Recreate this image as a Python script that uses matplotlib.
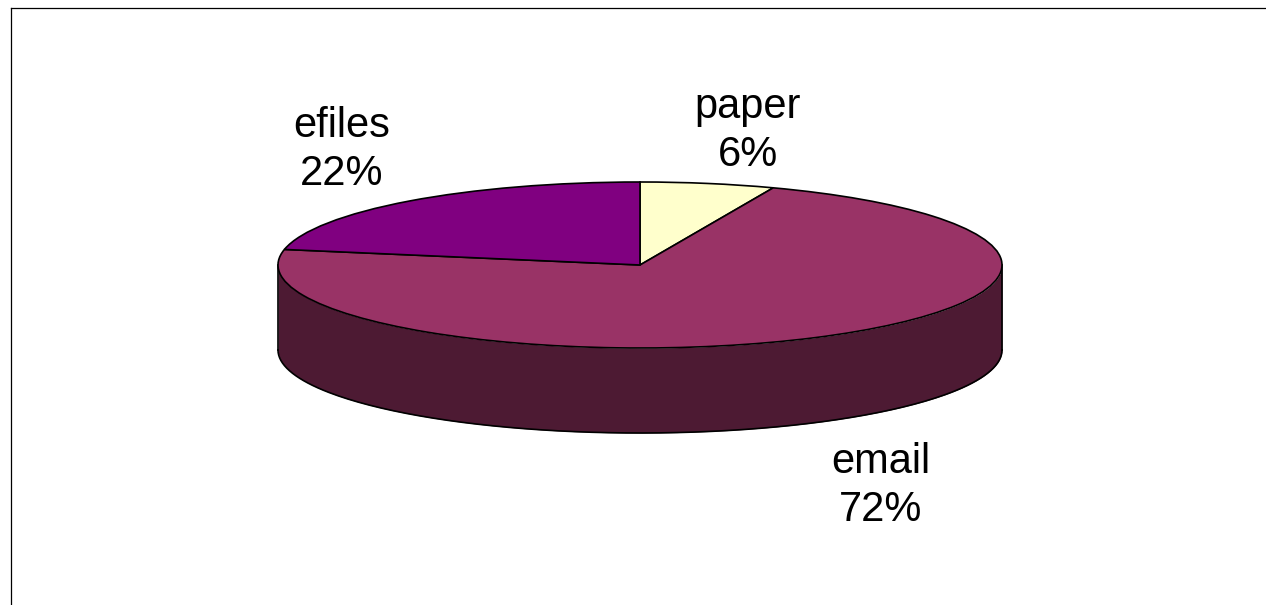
import numpy as np
import matplotlib
matplotlib.use('Agg')
import matplotlib.pyplot as plt

labels = ['paper', 'email', 'efiles']
shares = [6, 72, 22]
top_colors = ['#ffffcc', '#993366', '#800080']
side_color = '#4d1a33'

W, H = 1266, 605
plt.rcParams['font.family'] = ['Liberation Sans', 'DejaVu Sans']

fig = plt.figure(figsize=(W / 100, H / 100), dpi=100)

# full-figure axes in pixels, y pointing down like the reference
ax = fig.add_axes([0, 0, 1, 1])

cx, cy = 640, 265
rx, ry = 362, 83
depth = 85
edge = 1.2

# side wall of the cylinder, front half only
theta = np.linspace(0, np.pi, 200)
xs = cx + rx * np.cos(theta)
ys = cy + ry * np.sin(theta)
ax.fill_between(xs, ys, ys + depth, color=side_color, lw=0, zorder=1)
ax.plot(xs, ys + depth, color='black', lw=edge, zorder=2)
ax.plot([cx - rx, cx - rx], [cy, cy + depth], color='black', lw=edge, zorder=2)
ax.plot([cx + rx, cx + rx], [cy, cy + depth], color='black', lw=edge, zorder=2)

# top face: unit pie, squashed into the ellipse by a second axes
ax_top = fig.add_axes([(cx - rx) / W, 1 - (cy + ry) / H, 2 * rx / W, 2 * ry / H])
ax_top.pie(shares, colors=top_colors, startangle=90, counterclock=False, radius=1,
           wedgeprops={'edgecolor': 'black', 'linewidth': edge})
ax_top.set_aspect('auto')
ax_top.set_xlim(-1, 1)
ax_top.set_ylim(-1, 1)
ax_top.patch.set_alpha(0)
for w in ax_top.patches:
    w.set_clip_on(False)

ax.set_xlim(0, W)
ax.set_ylim(H, 0)
ax.axis('off')

# chart area border, only top and left reach inside the image
ax.plot([11, 11], [8, H], color='black', lw=0.9, clip_on=True)
ax.plot([11, W], [8, 8], color='black', lw=0.9, clip_on=True)

label_pos = {'paper': (748, 131), 'email': (881, 486), 'efiles': (342, 150)}
for name, share in zip(labels, shares):
    x, y = label_pos[name]
    ax.text(x, y, f'{name}\n{share}%', ha='center', va='center', fontsize=30,
            linespacing=1.24, color='black')

fig.savefig('out.png', dpi=100)
